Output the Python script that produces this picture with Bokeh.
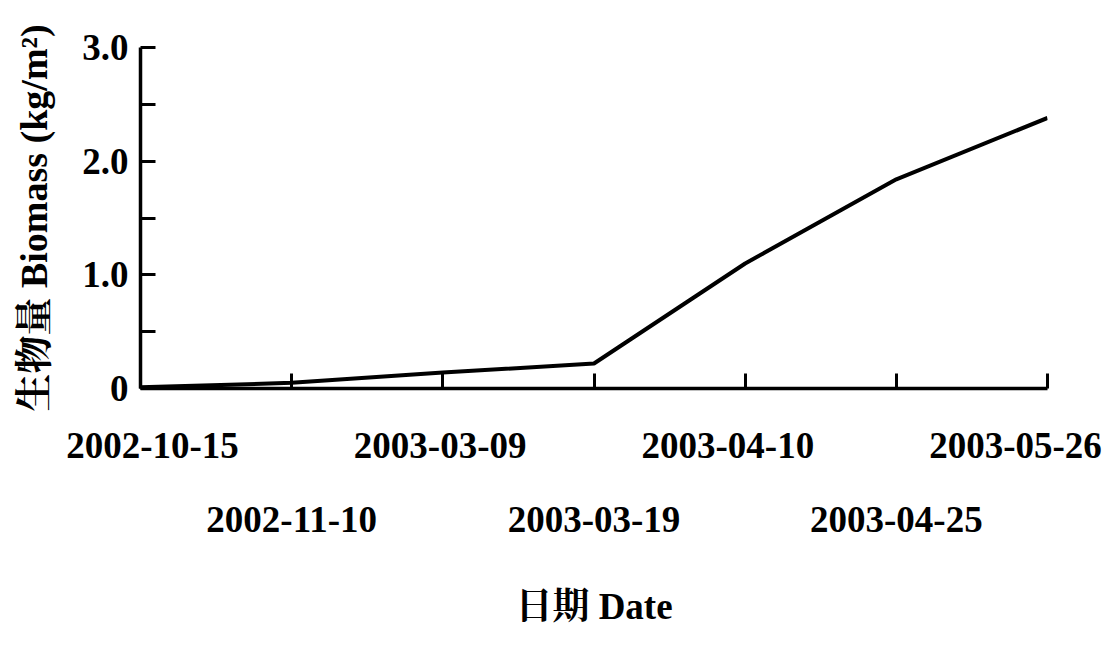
from bokeh.plotting import figure
from bokeh.models import FixedTicker, Range1d, LinearAxis
from bokeh.embed import file_html
from bokeh.resources import INLINE

# ---- data ----
dates = ["2002-10-15", "2002-11-10", "2003-03-09", "2003-03-19",
         "2003-04-10", "2003-04-25", "2003-05-26"]
biomass = [0.01, 0.05, 0.14, 0.22, 1.10, 1.84, 2.38]
y_ticks = [0, 1, 2, 3]
y_minor = [0.5, 1.5, 2.5]
y_tick_labels = ["0", "1.0", "2.0", "3.0"]
x_title = "日期 Date"
y_title = "生物量 Biomass (kg/m²)"

# ---- styles / placement (not data) ----
FONT = "Liberation Serif, Noto Serif CJK SC, Noto Sans CJK SC"
W, H = 1104, 630
FL, FR, FT, FB = 140, 1047, 47, 388     # plot frame edges (px)
frame_w = FR - FL
row1_first_px, row1_last_px = 12, 875   # row-1 labels squeezed so the last one fits

idx = list(range(len(dates)))
n = len(dates) - 1

p = figure(width=W, height=H, output_backend="svg", toolbar_location=None,
           x_range=Range1d(0, n), y_range=Range1d(0, 3),
           min_border_left=FL, min_border_right=W - FR,
           min_border_top=FT, min_border_bottom=H - FB)
p.outline_line_color = None
p.xgrid.visible = False
p.ygrid.visible = False
p.background_fill_color = "white"
p.border_fill_color = "white"

p.line(x=idx, y=biomass, line_color="black", line_width=4)

# y axis
ya = p.yaxis[0]
ya.ticker = FixedTicker(ticks=y_ticks, minor_ticks=y_minor)
ya.major_label_overrides = {t: s for t, s in zip(y_ticks, y_tick_labels)}
ya.major_tick_in = 15
ya.major_tick_out = 0
ya.minor_tick_in = 15
ya.minor_tick_out = 0
ya.axis_line_width = 3.5
ya.major_tick_line_width = 3
ya.minor_tick_line_width = 3
ya.major_label_text_font = FONT
ya.major_label_text_font_style = "bold"
ya.major_label_text_font_size = "37px"
ya.major_label_text_color = "black"
ya.major_label_standoff = 12
ya.axis_label = y_title
ya.axis_label_text_font = FONT
ya.axis_label_text_font_style = "bold"
ya.axis_label_text_font_size = "38px"
ya.axis_label_text_color = "black"
ya.axis_label_standoff = 24

# x axis: line + inward ticks only (drawn as minor ticks, so no labels)
xa = p.xaxis[0]
xa.ticker = FixedTicker(ticks=[], minor_ticks=idx)
xa.minor_tick_in = 15
xa.minor_tick_out = 0
xa.major_tick_in = 0
xa.major_tick_out = 0
xa.axis_line_width = 3.5
xa.minor_tick_line_width = 3

# row-1 labels on a slightly compressed range so the last label stays in view
span = n * frame_w / (row1_last_px - row1_first_px)
r1_start = -row1_first_px * n / (row1_last_px - row1_first_px)
p.extra_x_ranges = {"row1": Range1d(r1_start, r1_start + span)}


def label_axis(sel, range_name, standoff):
    kw = {"x_range_name": range_name} if range_name else {}
    ax = LinearAxis(**kw)
    ax.ticker = FixedTicker(ticks=[idx[i] for i in sel], minor_ticks=[])
    ax.major_label_overrides = {idx[i]: dates[i] for i in sel}
    ax.axis_line_color = None
    ax.major_tick_line_color = None
    ax.minor_tick_line_color = None
    ax.major_tick_in = 0
    ax.major_tick_out = 0
    ax.minor_tick_in = 0
    ax.minor_tick_out = 0
    ax.major_label_text_font = FONT
    ax.major_label_text_font_style = "bold"
    ax.major_label_text_font_size = "37px"
    ax.major_label_text_color = "black"
    ax.major_label_standoff = standoff
    return ax


row1 = label_axis([0, 2, 4, 6], "row1", 44)
row2 = label_axis([1, 3, 5], None, 46)
row2.axis_label = x_title
row2.axis_label_text_font = FONT
row2.axis_label_text_font_style = "bold"
row2.axis_label_text_font_size = "37px"
row2.axis_label_text_color = "black"
row2.axis_label_standoff = 51
p.add_layout(row1, "below")
p.add_layout(row2, "below")

open("out.html", "w").write(file_html(p, INLINE))
